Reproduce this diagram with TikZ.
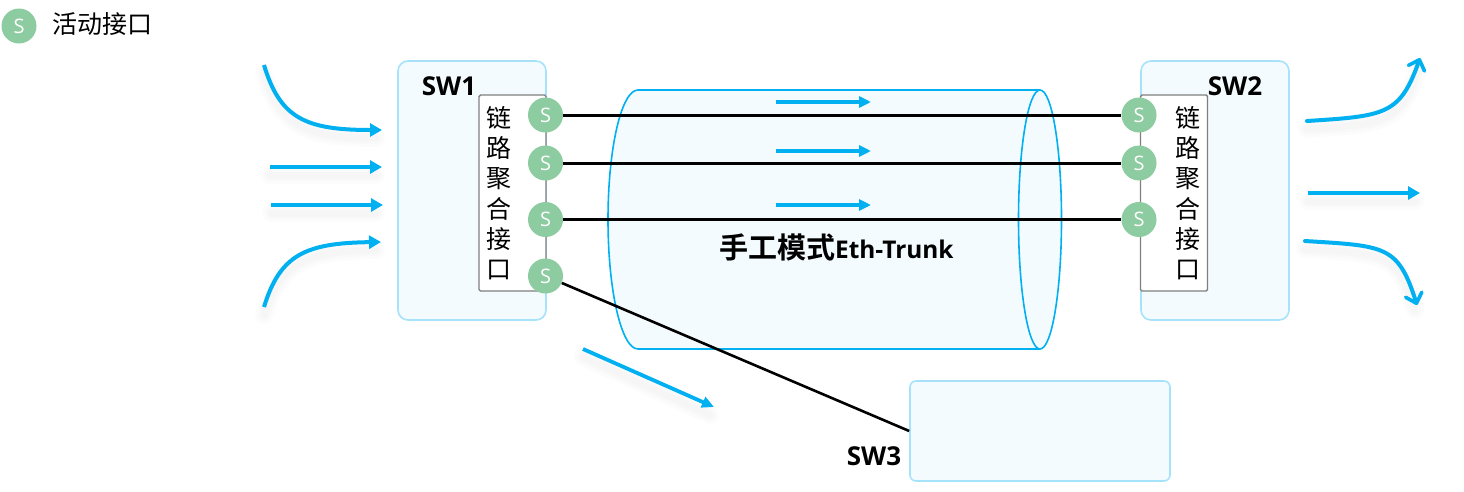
\documentclass[tikz,border=0pt]{standalone}
\usepackage{fontspec}
\setmainfont{Open Sans}
\newfontfamily\cjk{Noto Sans CJK SC}
\newfontfamily\cjkb{Noto Sans CJK SC Bold}
\usetikzlibrary{arrows.meta}
\definecolor{flow}{HTML}{00B0F0}
\definecolor{boxline}{HTML}{A6E3FA}
\definecolor{boxfill}{HTML}{F3FBFF}
\definecolor{port}{HTML}{8DCBA0}
\definecolor{linkbox}{HTML}{7F7F7F}
\tikzset{
  x=1pt,y=-1pt,
  swbox/.style={draw=boxline,fill=boxfill,line width=1.6pt,rounded corners=10pt,minimum width=#1,inner sep=0pt},
  lagbox/.style={draw=linkbox,fill=white,line width=1.4pt,rounded corners=1.5pt,minimum width=67pt,minimum height=196pt,inner sep=0pt},
  lagtext/.style={inner sep=0pt,align=center,font=\cjk\fontsize{25}{30.3}\selectfont},
  portnode/.style={circle,fill=port,text=white,minimum size=35pt,inner sep=0pt,font=\fontsize{20}{20}\selectfont},
  swlabel/.style={inner sep=0pt,font=\bfseries\fontsize{26}{28}\selectfont},
  link/.style={line width=3pt,black},
  linkd/.style={line width=2.6pt,black},
  flowarrow/.style={flow,line width=4pt,-{Triangle[length=12pt,width=13pt]}},
  flowthin/.style={flow,line width=3.8pt,-{Triangle[length=12pt,width=11pt]}},
  flowopen/.style={flow,line width=4pt,line cap=round,-{Straight Barb[length=9pt,width=17pt,line width=3.6pt,round]}},
  glow/.style={black,opacity=0.01,line width=#1,line cap=round},
  tube/.style={draw=flow,line width=1.6pt}
}
\newcommand{\softpath}[1]{%
  \draw[glow=18pt] #1; \draw[glow=12pt] #1; \draw[glow=7pt] #1;}
\begin{document}
\begin{tikzpicture}
\useasboundingbox (0,0) rectangle (1464,491);
% coordinates
\coordinate (iaS) at (264,65); \coordinate (iaE) at (382,130);
\coordinate (ibS) at (270,167); \coordinate (ibE) at (382,167);
\coordinate (icS) at (271,205); \coordinate (icE) at (383,205);
\coordinate (idS) at (264,307); \coordinate (idE) at (381,242);
\coordinate (oaS) at (1307,121); \coordinate (oaE) at (1420,58);
\coordinate (obS) at (1308,193); \coordinate (obE) at (1420,193);
\coordinate (ocS) at (1305,241); \coordinate (ocE) at (1417,305);
\coordinate (taS) at (776,102); \coordinate (taE) at (871,102);
\coordinate (tbS) at (776,151); \coordinate (tbE) at (871,151);
\coordinate (tcS) at (776,205); \coordinate (tcE) at (871,205);
\coordinate (dS) at (583,349); \coordinate (dE) at (714,407);
% soft shadows of the flow arrows
\softpath{(264,73) .. controls (280,126) and (305,138) .. (376,138)}
\softpath{(270,175) -- (376,175)}
\softpath{(271,213) -- (376,213)}
\softpath{(264,315) .. controls (280,263) and (305,251) .. (376,250)}
\softpath{(1307,129) .. controls (1385,124) and (1400,123) .. (1418,70)}
\softpath{(1308,201) -- (1415,201)}
\softpath{(1305,249) .. controls (1385,254) and (1398,253) .. (1415,310)}
\softpath{(583,357) -- (710,415)}
% switches
\node[swbox=148pt,minimum height=259pt] (sw1) at (472,190.5) {};
\node[swbox=148pt,minimum height=259pt] (sw2) at (1215,190.5) {};
\node[swbox=260pt,minimum height=100pt,rounded corners=6pt] (sw3) at (1040,431) {};
% tube
\coordinate (tl) at (638,90); \coordinate (tr) at (1040,90);
\coordinate (bl) at (638,349); \coordinate (br) at (1040,349);
\fill[boxfill] (tl) -- (tr) arc[start angle=90,end angle=-90,x radius=21.5pt,y radius=129.5pt] -- (bl) arc[start angle=270,end angle=90,x radius=30pt,y radius=129.5pt] -- cycle;
\draw[tube] (tl) -- (tr);
\draw[tube] (bl) -- (br);
\draw[tube] (tl) arc[start angle=90,end angle=270,x radius=30pt,y radius=129.5pt];
\draw[tube] (1040,219.5) ellipse[x radius=21.5pt,y radius=129.5pt];
\node[inner sep=0pt,anchor=west] (title) at (719,247.5) {{\cjkb\fontsize{29}{30}\selectfont 手工模式}{\bfseries\fontsize{24.4}{26}\selectfont Eth-Trunk}};
% aggregation boxes
\node[lagbox] (lag1) at (512.5,193) {};
\node[lagbox] (lag2) at (1174,193) {};
\node[lagtext] (lag1t) at (498.5,193) {链\\路\\聚\\合\\接\\口};
\node[lagtext] (lag2t) at (1187.5,193) {链\\路\\聚\\合\\接\\口};
\node[swlabel] (sw1t) at (449,86.5) {SW1};
\node[swlabel] (sw2t) at (1235,86) {SW2};
\node[swlabel] (sw3t) at (874,456.5) {SW3};
% ports
\node[portnode] (p1) at (545.5,115) {S};
\node[portnode] (p2) at (545.5,163) {S};
\node[portnode] (p3) at (545.5,219.5) {S};
\node[portnode] (p4) at (545.5,276) {S};
\node[portnode] (q1) at (1139,115) {S};
\node[portnode] (q2) at (1139,163) {S};
\node[portnode] (q3) at (1139,219.5) {S};
% links
\draw[link] (p1) -- (q1);
\draw[link] (p2) -- (q2);
\draw[link] (p3) -- (q3);
\draw[linkd] (p4) -- (sw3.west);
% flow arrows
\draw[flowarrow] (iaS) .. controls (280,118) and (305,130) .. (iaE);
\draw[flowarrow] (ibS) -- (ibE);
\draw[flowarrow] (icS) -- (icE);
\draw[flowarrow] (idS) .. controls (280,255) and (305,243) .. (idE);
\draw[flowopen] (oaS) .. controls (1385,116) and (1400,115) .. (oaE);
\draw[flowarrow] (obS) -- (obE);
\draw[flowopen] (ocS) .. controls (1385,246) and (1398,245) .. (ocE);
\draw[flowthin] (taS) -- (taE);
\draw[flowthin] (tbS) -- (tbE);
\draw[flowthin] (tcS) -- (tcE);
\draw[flowthin] (dS) -- (dE);
% legend
\node[portnode] (leg) at (19,26) {S};
\node[inner sep=0pt,anchor=west,font=\cjk\fontsize{25}{27}\selectfont] (legt) at (52,24.5) {活动接口};
\end{tikzpicture}
\end{document}
